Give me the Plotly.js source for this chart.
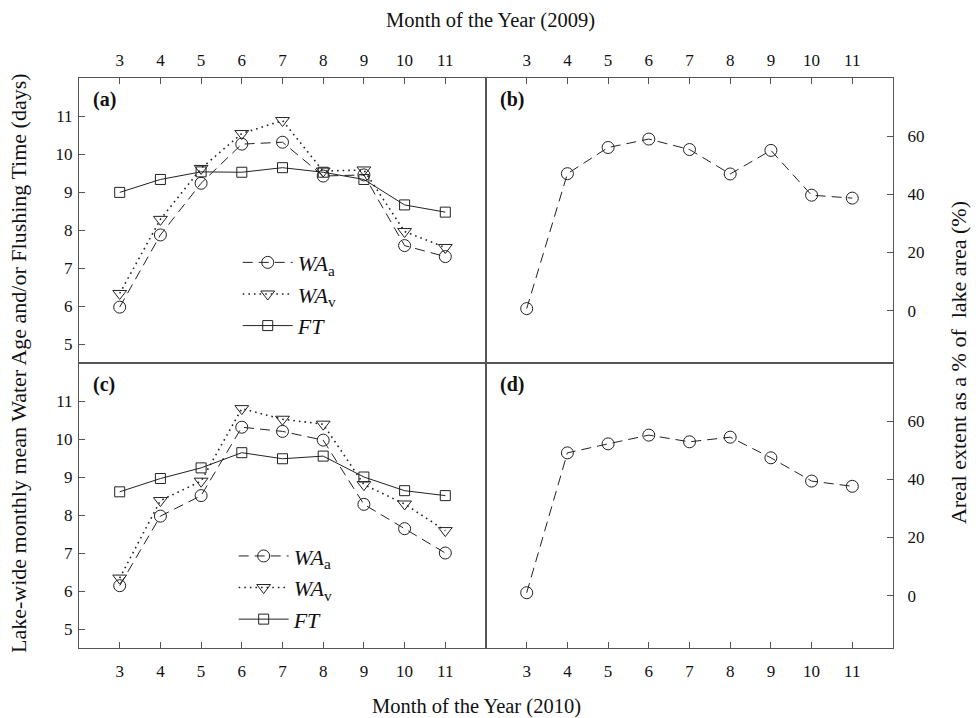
<!DOCTYPE html>
<html>
<head>
<meta charset="utf-8">
<script src="https://cdn.plot.ly/plotly-3.0.1.min.js"></script>
<style>html,body{margin:0;padding:0;background:#fff;}</style>
</head>
<body>
<div id="chart" style="width:976px;height:718px;"></div>
<script>
// Months
const months = [3, 4, 5, 6, 7, 8, 9, 10, 11];
const monthTicks = ['3', '4', '5', '6', '7', '8', '9', '10', '11'];
const ageTicks = [5, 6, 7, 8, 9, 10, 11];
const areaTicks = [0, 20, 40, 60];

// 2009 (panel a): water age & flushing time (days)
const waA2009 = [5.97, 7.87, 9.23, 10.26, 10.31, 9.42, 9.45, 7.59, 7.30];
const waV2009 = [6.33, 8.28, 9.62, 10.54, 10.88, 9.55, 9.58, 7.96, 7.54];
const ft2009  = [8.99, 9.33, 9.53, 9.52, 9.64, 9.52, 9.33, 8.66, 8.47];
// 2009 (panel b): areal extent (%)
const area2009 = [0.7, 47.1, 56.1, 59.0, 55.4, 47.0, 55.1, 39.7, 38.7];

// 2010 (panel c)
const waA2010 = [6.14, 7.97, 8.51, 10.31, 10.20, 9.97, 8.28, 7.64, 7.00];
const waV2010 = [6.34, 8.38, 8.89, 10.80, 10.52, 10.39, 8.80, 8.29, 7.59];
const ft2010  = [8.61, 8.96, 9.24, 9.64, 9.48, 9.55, 9.00, 8.64, 8.51];
// 2010 (panel d)
const area2010 = [1.0, 49.1, 52.2, 55.2, 52.9, 54.5, 47.4, 39.4, 37.6];

const seriesNames = ['<i>WA</i><sub>a</sub>', '<i>WA</i><sub>v</sub>', '<i>FT</i>'];

const LC = '#222';
const dashA = '10px,6px';

function waA(x, y, xa, ya, lg) {
  return {x: x, y: y, xaxis: xa, yaxis: ya, type: 'scatter', mode: 'lines+markers',
    name: seriesNames[0], legend: lg, showlegend: !!lg,
    line: {color: LC, width: 1, dash: dashA},
    marker: {symbol: 'circle-open', size: 12, color: LC, line: {width: 1, color: LC}}};
}
function waV(x, y, xa, ya, lg) {
  return {x: x, y: y, xaxis: xa, yaxis: ya, type: 'scatter', mode: 'lines+markers',
    name: seriesNames[1], legend: lg, showlegend: !!lg,
    line: {color: LC, width: 1.6, dash: '1.6px,4px'},
    marker: {symbol: 'triangle-down-open', size: 12, color: LC, line: {width: 1, color: LC}}};
}
function ft(x, y, xa, ya, lg) {
  return {x: x, y: y, xaxis: xa, yaxis: ya, type: 'scatter', mode: 'lines+markers',
    name: seriesNames[2], legend: lg, showlegend: !!lg,
    line: {color: LC, width: 1},
    marker: {symbol: 'square-open', size: 10, color: LC, line: {width: 1, color: LC}}};
}
function area(x, y, xa, ya) {
  return {x: x, y: y, xaxis: xa, yaxis: ya, type: 'scatter', mode: 'lines+markers',
    showlegend: false, name: 'Areal extent',
    line: {color: LC, width: 1, dash: dashA},
    marker: {symbol: 'circle-open', size: 12, color: LC, line: {width: 1, color: LC}}};
}

const data = [
  waA(months, waA2009, 'x', 'y', 'legend'),
  waV(months, waV2009, 'x', 'y', 'legend'),
  ft(months, ft2009, 'x', 'y', 'legend'),
  area(months, area2009, 'x2', 'y2'),
  waA(months, waA2010, 'x3', 'y3', 'legend2'),
  waV(months, waV2010, 'x3', 'y3', 'legend2'),
  ft(months, ft2010, 'x3', 'y3', 'legend2'),
  area(months, area2010, 'x4', 'y4')
];

const FONT = '"Liberation Serif", "Times New Roman", serif';
const tickFont = {family: FONT, size: 17, color: '#111'};
const AXC = '#555';

function xax(domain, anchor, side, standoff) {
  return {domain: domain, anchor: anchor, side: side, range: [2, 12],
    tickmode: 'array', tickvals: months, ticktext: monthTicks,
    ticks: 'inside', ticklen: 6, tickcolor: AXC, tickwidth: 1,
    showline: true, mirror: true, linecolor: AXC, linewidth: 1,
    showgrid: false, zeroline: false, tickfont: tickFont, ticklabelstandoff: standoff};
}
function yax(domain, anchor, side, range, vals, standoff) {
  return {domain: domain, anchor: anchor, side: side, range: range,
    tickmode: 'array', tickvals: vals,
    ticks: 'inside', ticklen: 6, tickcolor: AXC, tickwidth: 1,
    showline: true, mirror: true, linecolor: AXC, linewidth: 1,
    showgrid: false, zeroline: false, tickfont: tickFont, ticklabelstandoff: standoff};
}

function panelLabel(txt, xr, yr) {
  return {text: '<b>' + txt + '</b>', xref: xr + ' domain', yref: yr + ' domain',
    x: 0.03, y: 0.925, xanchor: 'left', yanchor: 'middle', showarrow: false,
    font: {family: FONT, size: 20, color: '#111'}};
}

const legendBase = {
  xanchor: 'left', yanchor: 'top', bgcolor: 'rgba(0,0,0,0)', borderwidth: 0,
  font: {family: FONT, size: 22, color: '#111'}, itemwidth: 50, tracegroupgap: 0
};

const layout = {
  width: 976, height: 718,
  margin: {l: 79, r: 83, t: 78, b: 70},
  paper_bgcolor: '#fff', plot_bgcolor: '#fff',
  font: {family: FONT, color: '#111'},
  xaxis: xax([0, 0.5], 'y', 'top', 4),
  yaxis: yax([0.5, 1], 'x', 'left', [4.5, 12], ageTicks, 2),
  xaxis2: xax([0.5, 1], 'y2', 'top', 4),
  yaxis2: yax([0.5, 1], 'x2', 'right', [-18, 80], areaTicks, 10),
  xaxis3: xax([0, 0.5], 'y3', 'bottom', 8),
  yaxis3: yax([0, 0.5], 'x3', 'left', [4.5, 12], ageTicks, 2),
  xaxis4: xax([0.5, 1], 'y4', 'bottom', 8),
  yaxis4: yax([0, 0.5], 'x4', 'right', [-18, 80], areaTicks, 10),
  legend: Object.assign({x: 0.195, y: 0.713}, legendBase),
  legend2: Object.assign({x: 0.19, y: 0.198}, legendBase),
  annotations: [
    panelLabel('(a)', 'x', 'y'),
    panelLabel('(b)', 'x2', 'y2'),
    panelLabel('(c)', 'x3', 'y3'),
    panelLabel('(d)', 'x4', 'y4'),
    {text: 'Month of the Year (2009)', xref: 'paper', yref: 'paper', x: 0.505, y: 1.1,
      xanchor: 'center', yanchor: 'middle', showarrow: false, font: {family: FONT, size: 20.5, color: '#111'}},
    {text: 'Month of the Year (2010)', xref: 'paper', yref: 'paper', x: 0.488, y: -0.103,
      xanchor: 'center', yanchor: 'middle', showarrow: false, font: {family: FONT, size: 20.5, color: '#111'}},
    {text: 'Lake-wide monthly mean Water Age and/or Flushing Time (days)', xref: 'paper', yref: 'paper',
      x: -0.075, y: 0.5, textangle: -90, xanchor: 'center', yanchor: 'middle', showarrow: false,
      font: {family: FONT, size: 22, color: '#111'}},
    {text: 'Areal extent as a % of&nbsp; lake area (%)', xref: 'paper', yref: 'paper',
      x: 1.08, y: 0.5, textangle: -90, xanchor: 'center', yanchor: 'middle', showarrow: false,
      font: {family: FONT, size: 22, color: '#111'}}
  ]
};

Plotly.newPlot('chart', data, layout, {displayModeBar: false, staticPlot: true});
</script>
</body>
</html>
